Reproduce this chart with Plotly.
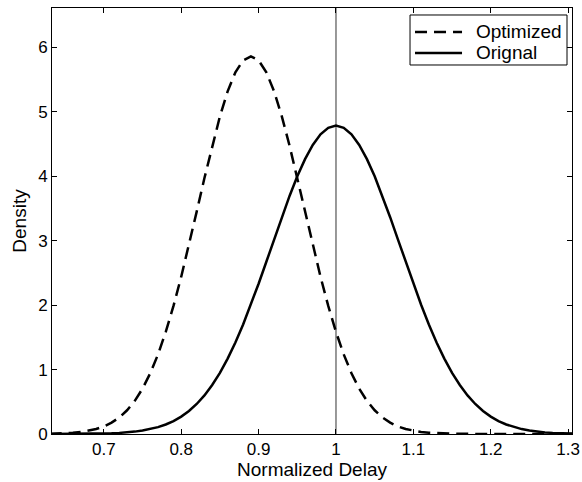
import plotly.graph_objects as go

x_vals = [0.63, 0.64, 0.65, 0.66, 0.67, 0.68, 0.69, 0.70, 0.71, 0.72, 0.73, 0.74,
          0.75, 0.76, 0.77, 0.78, 0.79, 0.80, 0.81, 0.82, 0.83, 0.84, 0.85, 0.86,
          0.87, 0.88, 0.89, 0.90, 0.91, 0.92, 0.93, 0.94, 0.95, 0.96, 0.97, 0.98,
          0.99, 1.00, 1.01, 1.02, 1.03, 1.04, 1.05, 1.06, 1.07, 1.08, 1.09, 1.10,
          1.11, 1.12, 1.13, 1.14, 1.15, 1.16, 1.17, 1.18, 1.19, 1.20, 1.21, 1.22,
          1.23, 1.24, 1.25, 1.26, 1.27, 1.28, 1.29, 1.30, 1.31]

optimized = [0.004, 0.0068, 0.0116, 0.0192, 0.0312, 0.0498, 0.0775, 0.118, 0.176, 0.257, 0.368, 0.514,
             0.704, 0.943, 1.235, 1.584, 1.987, 2.441, 2.933, 3.450, 3.971, 4.472, 4.929, 5.317,
             5.612, 5.797, 5.86, 5.797, 5.612, 5.317, 4.929, 4.472, 3.971, 3.450, 2.933, 2.441,
             1.987, 1.584, 1.235, 0.943, 0.704, 0.514, 0.368, 0.257, 0.176, 0.118, 0.0775, 0.0498,
             0.0312, 0.0192, 0.0116, 0.0068, 0.004, 0.0022, 0.0012, 0.0007, 0.0003, 0.0002, 0.0001, 0.0,
             0.0, 0.0, 0.0, 0.0, 0.0, 0.0, 0.0, 0.0, 0.0]

original = [0.0003, 0.0004, 0.0007, 0.0012, 0.0019, 0.0030, 0.0048, 0.0074, 0.0113, 0.017, 0.025, 0.037,
            0.054, 0.076, 0.107, 0.148, 0.201, 0.270, 0.357, 0.466, 0.599, 0.760, 0.949, 1.170,
            1.420, 1.700, 2.005, 2.332, 2.673, 3.020, 3.364, 3.694, 3.998, 4.265, 4.485, 4.649,
            4.751, 4.785, 4.751, 4.649, 4.485, 4.265, 3.998, 3.694, 3.364, 3.020, 2.673, 2.332,
            2.005, 1.700, 1.420, 1.170, 0.949, 0.760, 0.599, 0.466, 0.357, 0.270, 0.201, 0.148,
            0.107, 0.076, 0.054, 0.037, 0.025, 0.017, 0.0113, 0.0074, 0.0048]

series_names = ["Optimized", "Orignal"]
x_ticks = [0.7, 0.8, 0.9, 1.0, 1.1, 1.2, 1.3]
x_tick_labels = ["0.7", "0.8", "0.9", "1", "1.1", "1.2", "1.3"]
y_ticks = [0, 1, 2, 3, 4, 5, 6]
ref_x = 1.0

FONT = "Liberation Sans, Arial, Helvetica, sans-serif"
DASH = "12px,7px"

fig = go.Figure()
fig.add_trace(go.Scatter(x=x_vals, y=optimized, mode="lines", name=series_names[0],
                         line=dict(color="black", width=2.5, dash=DASH)))
fig.add_trace(go.Scatter(x=x_vals, y=original, mode="lines", name=series_names[1],
                         line=dict(color="black", width=2.5)))

# vertical reference line at x = 1
fig.add_shape(type="line", xref="x", yref="paper", x0=ref_x, x1=ref_x, y0=0, y1=1,
              line=dict(color="#333333", width=1), layer="below")

# legend box drawn in the Matlab style (box with long line samples)
fig.add_shape(type="rect", xref="paper", yref="paper", x0=0.6885, x1=0.9904, y0=0.8662, y1=0.9836,
              line=dict(color="black", width=1), fillcolor="white", layer="above")
legend_rows = [0.9437, 0.8944]
legend_dash = [DASH, "solid"]
for name, yrow, dsh in zip(series_names, legend_rows, legend_dash):
    fig.add_shape(type="line", xref="paper", yref="paper", x0=0.6981, x1=0.7885, y0=yrow, y1=yrow,
                  line=dict(color="black", width=2.5, dash=dsh), layer="above")
    fig.add_annotation(xref="paper", yref="paper", x=0.8154, y=yrow, text=name, showarrow=False,
                       xanchor="left", yanchor="middle", xshift=-2,
                       font=dict(family=FONT, size=19, color="black"))

axis_common = dict(showline=True, linecolor="black", linewidth=1, mirror="ticks",
                   ticks="inside", ticklen=5, tickcolor="black", showgrid=False,
                   zeroline=False, automargin=False,
                   tickfont=dict(family=FONT, size=17, color="black"))

fig.update_layout(
    width=582, height=482,
    margin=dict(l=52, r=10, t=8, b=48),
    paper_bgcolor="white", plot_bgcolor="white",
    font=dict(family=FONT, size=17, color="black"),
    xaxis=dict(range=[0.633, 1.305], tickvals=x_ticks, ticktext=x_tick_labels,
               title=dict(text="Normalized Delay", font=dict(family=FONT, size=19), standoff=2),
               **axis_common),
    yaxis=dict(range=[0, 6.61], tickvals=y_ticks,
               title=dict(text="Density", font=dict(family=FONT, size=19), standoff=6),
               **axis_common),
    showlegend=False,
)

fig.write_html("out.html", config={"displayModeBar": False},
               post_script="document.body.style.margin='0';document.body.style.padding='0';")
